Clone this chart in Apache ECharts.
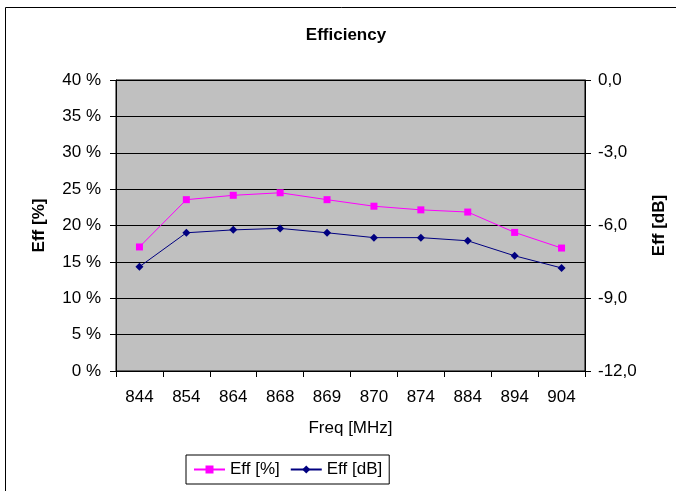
<!DOCTYPE html>
<html><head><meta charset="utf-8">
<script src="https://cdn.jsdelivr.net/npm/echarts@6/dist/echarts.min.js"></script>
<style>html,body{margin:0;padding:0;background:#fff}#c{width:676px;height:491px}</style>
</head><body><div id="c"></div>
<script>
const categories = ['844','854','864','868','869','870','874','884','894','904'];
const effPct = [17.05, 23.55, 24.15, 24.5, 23.55, 22.65, 22.15, 21.85, 19.05, 16.9];
const effDb = [-7.70, -6.30, -6.18, -6.12, -6.30, -6.50, -6.50, -6.63, -7.25, -7.75];
const leftTicks = [0,5,10,15,20,25,30,35,40];
const rightTicks = [0,-3,-6,-9,-12];

const font = 'Liberation Sans, Arial, sans-serif';
const fs = 17;
const chart = echarts.init(document.getElementById('c'));
chart.setOption({
  animation:false,
  backgroundColor:'#fff',
  graphic:[{type:'rect',shape:{x:5.5,y:7.5,width:700,height:500},style:{fill:'none',stroke:'#000',lineWidth:1},silent:true}],
  title:{text:'Efficiency',left:341,top:22,textAlign:'center',textStyle:{fontFamily:font,fontSize:fs,fontWeight:'bold',color:'#000'}},
  legend:{left:186,top:455,padding:[6,7,6,7],itemGap:10,borderColor:'#000',borderWidth:1,
    itemWidth:31,itemHeight:10,textStyle:{fontFamily:font,fontSize:fs,color:'#000'},
    data:['Eff [%]','Eff [dB]']},
  grid:{left:116,right:91,top:80,bottom:120,show:true,backgroundColor:'#C0C0C0',borderColor:'#000',borderWidth:1},
  xAxis:{type:'category',data:categories,boundaryGap:true,
    name:'Freq [MHz]',nameLocation:'middle',nameGap:49,nameTextStyle:{fontFamily:font,fontSize:fs,color:'#000'},
    axisLine:{lineStyle:{color:'#000'}},axisTick:{show:true,length:6,lineStyle:{color:'#000'}},
    axisLabel:{fontFamily:font,fontSize:fs,color:'#000',margin:18}},
  yAxis:[
    {type:'value',min:0,max:40,interval:5,
     name:'Eff [%]',nameLocation:'middle',nameGap:68,nameRotate:90,nameTextStyle:{fontFamily:font,fontSize:fs,fontWeight:'bold',color:'#000'},
     axisLine:{show:true,lineStyle:{color:'#000'}},axisTick:{show:true,length:6,lineStyle:{color:'#000'}},
     axisLabel:{fontFamily:font,fontSize:fs,color:'#000',margin:15,formatter:v=>leftTicks.includes(v)?v+' %':''},
     splitLine:{show:true,lineStyle:{color:'#000',width:1}}},
    {type:'value',min:-12,max:0,interval:3,position:'right',
     name:'Eff [dB]',nameLocation:'middle',nameGap:66,nameRotate:90,nameTextStyle:{fontFamily:font,fontSize:fs,fontWeight:'bold',color:'#000'},
     axisLine:{show:true,lineStyle:{color:'#000'}},axisTick:{show:true,length:6,lineStyle:{color:'#000'}},
     axisLabel:{fontFamily:font,fontSize:fs,color:'#000',margin:13,formatter:v=>rightTicks.includes(v)?v.toFixed(1).replace('.',','):''},
     splitLine:{show:false}}
  ],
  series:[
    {name:'Eff [%]',type:'line',yAxisIndex:0,data:effPct,symbol:'rect',symbolSize:7,
     itemStyle:{color:'#FF00FF'},lineStyle:{color:'#FF00FF',width:1}},
    {name:'Eff [dB]',type:'line',yAxisIndex:1,data:effDb,symbol:'diamond',symbolSize:8,
     itemStyle:{color:'#000080'},lineStyle:{color:'#000080',width:1}}
  ]
});
</script></body></html>
